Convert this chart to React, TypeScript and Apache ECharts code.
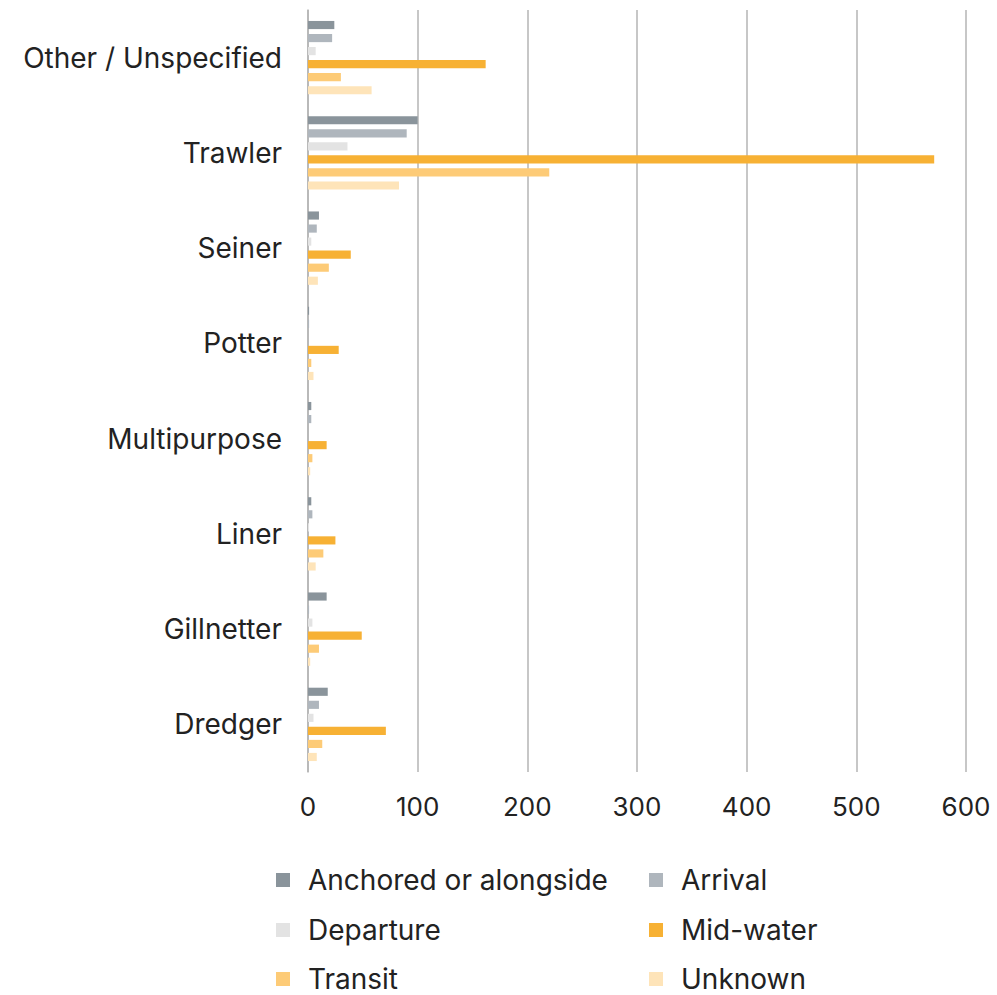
import React, { useEffect, useRef } from "react";
import * as echarts from "echarts";

const categories = ["Dredger", "Gillnetter", "Liner", "Multipurpose", "Potter", "Seiner", "Trawler", "Other / Unspecified"];
const anchored = [18, 17, 3, 3, 1, 10, 100, 24];
const arrival = [10, 1, 4, 3, 1, 8, 90, 22];
const departure = [5, 4, 1, 0, 0, 3, 36, 7];
const midWater = [71, 49, 25, 17, 28, 39, 571, 162];
const transit = [13, 10, 14, 4, 3, 19, 220, 30];
const unknown = [8, 2, 7, 2, 5, 9, 83, 58];
const xTicks = [0, 100, 200, 300, 400, 500, 600];

const seriesNames = ["Anchored or alongside", "Arrival", "Departure", "Mid-water", "Transit", "Unknown"];
const seriesColors = ["#8A949B", "#AFB6BD", "#E3E3E3", "#F7B134", "#FDCB77", "#FEE4B9"];
const seriesData = [anchored, arrival, departure, midWater, transit, unknown];

const FONT = "Inter, 'Noto Sans', sans-serif";

export default function App() {
  const ref = useRef<HTMLDivElement>(null);
  useEffect(() => {
    if (!ref.current) return;
    const chart = echarts.init(ref.current, undefined, { renderer: "svg" });
    const legendText = {
      fontSize: 28,
      lineHeight: 28,
      color: "#222",
      fontFamily: FONT,
      rich: { t: { fontSize: 28, lineHeight: 28, color: "#222", fontFamily: FONT, padding: [0, 0, 0, 13] } },
    };
    const rowTops = [866, 916, 965];
    const legends = seriesNames.map((name, i) => ({
      orient: "horizontal",
      left: i % 2 === 0 ? 276 : 649,
      top: rowTops[Math.floor(i / 2)],
      padding: 0,
      itemWidth: 14,
      itemHeight: 14,
      icon: "rect",
      textStyle: legendText,
      formatter: (n: string) => `{t|${n}}`,
      data: [name],
    }));
    chart.setOption({
      animation: false,
      textStyle: { fontFamily: FONT },
      grid: { left: 308, right: 31, top: 10, bottom: 223, containLabel: false },
      legend: legends,
      xAxis: {
        type: "value",
        min: 0,
        max: 600,
        interval: 100,
        axisLine: { show: false },
        axisTick: { show: false },
        axisLabel: {
          fontSize: 26,
          color: "#222",
          margin: 21,
          fontFamily: FONT,
          formatter: (v: number) => (xTicks.includes(v) ? String(v) : ""),
        },
        splitLine: { show: true, lineStyle: { color: "#B5B5B5", width: 1.5 } },
      },
      yAxis: {
        type: "category",
        data: categories,
        axisLine: { show: true, lineStyle: { color: "#B5B5B5", width: 1.5 } },
        axisTick: { show: false },
        axisLabel: { fontSize: 28, color: "#222", margin: 26, fontFamily: FONT, padding: [0, 0, 3, 0] },
      },
      series: seriesNames.map((name, i) => ({
        name,
        type: "bar",
        data: seriesData[i],
        itemStyle: { color: seriesColors[i] },
        barGap: "60%",
        barCategoryGap: "23%",
      })),
    });
    return () => chart.dispose();
  }, []);
  return <div ref={ref} style={{ width: 997, height: 995, position: "absolute", left: 0, top: 0 }} />;
}
